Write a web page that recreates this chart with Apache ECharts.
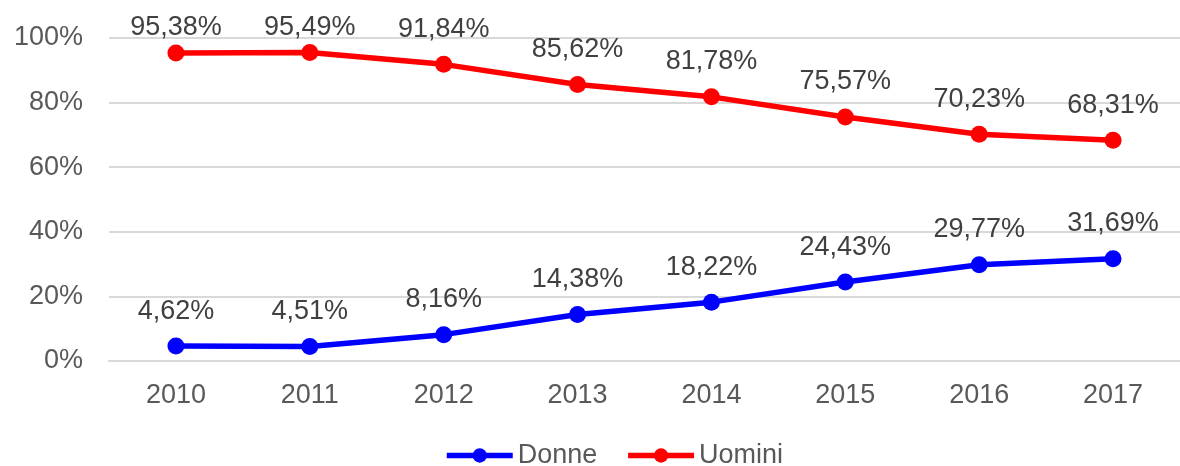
<!DOCTYPE html>
<html>
<head>
<meta charset="utf-8">
<script src="https://cdn.jsdelivr.net/npm/echarts@6/dist/echarts.min.js"></script>
<style>
  html, body { margin: 0; padding: 0; background: #fff; }
  #container { width: 1180px; height: 466px; }
</style>
</head>
<body>
<div id="container"></div>
<script>
var years = ['2010', '2011', '2012', '2013', '2014', '2015', '2016', '2017'];
var donne = [4.62, 4.51, 8.16, 14.38, 18.22, 24.43, 29.77, 31.69];
var uomini = [95.38, 95.49, 91.84, 85.62, 81.78, 75.57, 70.23, 68.31];

(function() {
    var dom = document.getElementById("container");
    var myChart = echarts.init(dom);
    var font = '"Liberation Sans", Arial, sans-serif';

    function fmt(p) {
        return p.value.toFixed(2).replace('.', ',') + '%';
    }

    function makeSeries(name, data, color) {
        return {
            name: name,
            type: 'line',
            // labels near the top edge get pushed down like in the original
            data: data.map(function(v) {
                return v > 94 ? { value: v, label: { offset: [0, 10] } } : v;
            }),
            symbol: 'circle',
            symbolSize: 17,
            lineStyle: { color: color, width: 5.5 },
            itemStyle: { color: color },
            label: {
                show: true,
                position: 'top',
                distance: 13,
                formatter: fmt,
                color: '#404040',
                fontSize: 27,
                fontFamily: font
            },
            animation: false
        };
    }

    myChart.setOption({
        textStyle: { fontFamily: font },
        grid: { left: 109, top: 38, width: 1080, height: 323 },
        legend: {
            top: 442,
            left: 444,
            padding: 0,
            itemWidth: 66,
            itemHeight: 18,
            itemGap: 28,
            lineStyle: { width: 5.5 },
            textStyle: { color: '#595959', fontSize: 27, fontFamily: font },
            data: ['Donne', 'Uomini']
        },
        xAxis: {
            type: 'category',
            data: years,
            axisLine: { lineStyle: { color: '#d9d9d9', width: 2 } },
            axisTick: { show: false },
            axisLabel: { color: '#595959', fontSize: 27, margin: 21, fontFamily: font }
        },
        yAxis: {
            type: 'value',
            min: 0,
            max: 100,
            interval: 20,
            axisLine: { show: false },
            axisTick: { show: false },
            splitLine: { lineStyle: { color: '#d9d9d9', width: 2 } },
            axisLabel: {
                color: '#595959',
                fontSize: 27,
                margin: 26,
                fontFamily: font,
                formatter: '{value}%'
            }
        },
        series: [
            makeSeries('Donne', donne, '#0000ff'),
            makeSeries('Uomini', uomini, '#ff0000')
        ]
    });
}).call(this);
</script>
</body>
</html>
